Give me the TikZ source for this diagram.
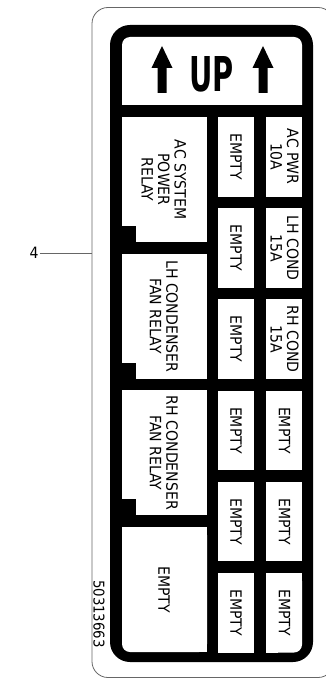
\documentclass[tikz,border=0pt]{standalone}
\usepackage{fontspec}
\setmainfont{DejaVu Sans}
\newfontfamily\condfont[FakeStretch=0.9]{DejaVu Sans}
\usepackage{graphicx}
\begin{document}
\begin{tikzpicture}[x=1pt,y=-1pt,
  lbl/.style={rotate=-90, align=center, inner sep=0pt, font=\condfont\fontsize{15.6}{16.5}\selectfont},
  thinline/.style={draw=black!60, line width=0.8pt},
  cell/.style={fill=white},
  notch/.style={fill=black}]
\useasboundingbox (0,0) rectangle (326,679);
\begin{scope}
  \clip (0,0) rectangle (326,679);
  \draw[thinline, rounded corners=16] (92,7.5) rectangle (334,677.5);
\end{scope}
% black frame
\fill[black, rounded corners=20] (110,25) rectangle (313,662);
% UP box
\fill[cell, rounded corners=8] (122,37) rectangle (302,115);
\fill[black] (120,105) rectangle (304,117);
% arrows
\fill[black] (162,46) -- (172.5,68) -- (166.5,68) -- (166.5,93) -- (157.5,93) -- (157.5,68) -- (151.5,68) -- cycle;
\fill[black] (263,46) -- (273.5,68) -- (267.5,68) -- (267.5,93) -- (258.5,93) -- (258.5,68) -- (252.5,68) -- cycle;
\node[inner sep=0pt] (up) at (211.5,74.5) {\scalebox{0.6}[1]{\fontsize{48}{48}\selectfont\bfseries UP}};
% relay cells
\foreach \i in {0,1,2} {
  \pgfmathsetmacro{\ys}{117+136.7*\i}
  \pgfmathsetmacro{\ye}{\ys+125}
  \pgfmathsetmacro{\yn}{\ye-16}
  \fill[cell] (122,\ys) rectangle (207,\ye);
  \fill[notch] (121,\yn) rectangle (136,\ye);
}
\fill[cell, rounded corners=8] (122,527.1) rectangle (207,652);
\fill[cell] (122,527.1) rectangle (207,540);
\fill[cell] (195,527.1) rectangle (207,652);
% fuse cells
\foreach \i in {0,...,5} {
  \pgfmathsetmacro{\ys}{117+91.2*\i}
  \pgfmathsetmacro{\ye}{\ys+79.5}
  \fill[cell] (218,\ys) rectangle (254,\ye);
  \ifnum\i<5
    \fill[cell] (266,\ys) rectangle (302,\ye);
  \fi
}
\fill[cell, rounded corners=8] (266,573) rectangle (302,652.5);
\fill[cell] (266,573) rectangle (302,585);
\fill[cell] (266,573) rectangle (278,652.5);
% relay labels
\node[lbl] (r1) at (164,179.5) {AC SYSTEM\\POWER\\RELAY};
\node[lbl] (r2) at (164,316.2) {LH CONDENSER\\FAN RELAY};
\node[lbl] (r3) at (164,452.9) {RH CONDENSER\\FAN RELAY};
\node[lbl] (r4) at (164,589.6) {EMPTY};
% fuse labels
\foreach \i in {0,...,5} {
  \pgfmathsetmacro{\yc}{117+91.2*\i+39.75}
  \node[lbl] (m\i) at (236,\yc) {EMPTY};
}
\node[lbl] (f0) at (284.5,156.75) {AC PWR\\10A};
\node[lbl] (f1) at (284.5,247.95) {LH COND\\15A};
\node[lbl] (f2) at (284.5,339.15) {RH COND\\15A};
\node[lbl] (f3) at (284.5,430.35) {EMPTY};
\node[lbl] (f4) at (284.5,521.55) {EMPTY};
\node[lbl] (f5) at (284.5,612.75) {EMPTY};
% part number
\node[lbl, font=\condfont\fontsize{14.8}{16}\selectfont] (pn) at (99,614) {50313663};
% callout
\coordinate (edge) at (92,253);
\node[inner sep=1pt, font=\condfont\fontsize{15.6}{16}\selectfont] (c4) at (34,253) {4};
\draw[thinline] (c4.east) -- (edge);
\end{tikzpicture}
\end{document}
